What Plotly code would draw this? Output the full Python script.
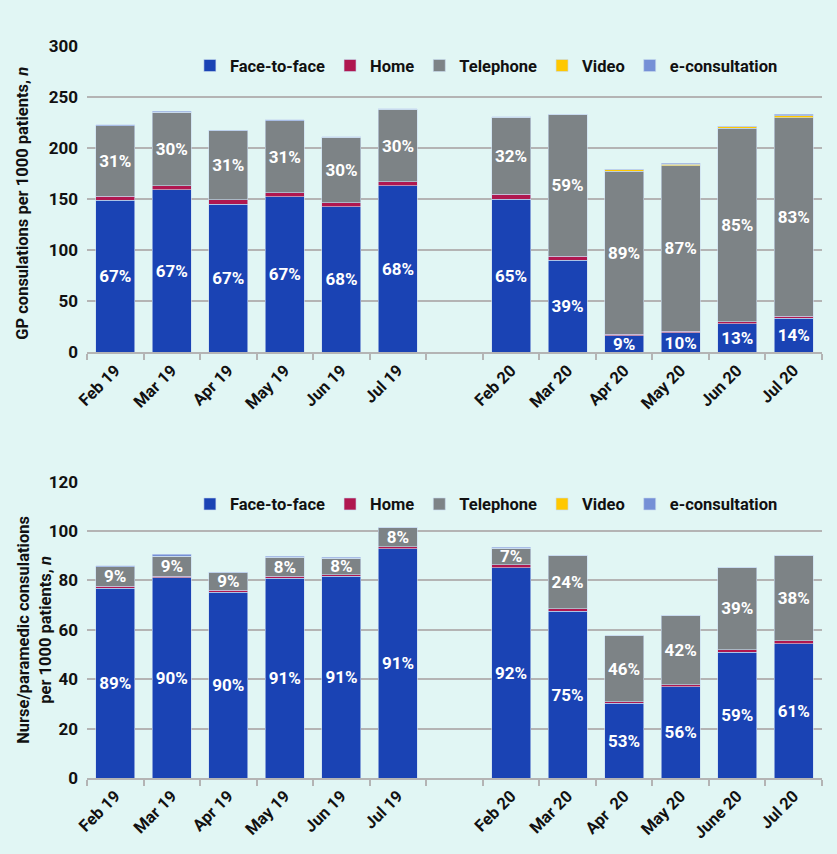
import plotly.graph_objects as go
from plotly.subplots import make_subplots

# categories (the blank " " slot is the gap between the two years)
gp_months = ["Feb 19", "Mar 19", "Apr 19", "May 19", "Jun 19", "Jul 19", " ",
             "Feb 20", "Mar 20", "Apr 20", "May 20", "Jun 20", "Jul 20"]
nurse_months = ["Feb 19", "Mar 19", "Apr 19", "May 19", "Jun 19", "Jul 19", " ",
                "Feb 20", "Mar 20", "Apr  20", "May 20", "June 20", "Jul 20"]

# GP consultations per 1000 patients
gp_f2f = [149, 159, 145, 152.5, 142.7, 163, None, 150, 90.2, 16.2, 19, 27.9, 33.4]
gp_home = [4, 4, 4.3, 3.9, 3.6, 4, None, 5, 3.8, 1.6, 1.7, 1.9, 1.9]
gp_tel = [69, 72, 67.7, 70.6, 64.4, 71, None, 75.3, 139, 159.4, 162, 189.6, 194.5]
gp_video = [0, 0, 0, 0, 0, 0, None, 0, 0, 1.5, 1.5, 1.3, 1.7]
gp_econ = [0.7, 1.3, 0.7, 1, 0.6, 0.5, None, 0.4, 0.2, 0.8, 1, 0.9, 1.5]
gp_f2f_pct = ["67%", "67%", "67%", "67%", "68%", "68%", "", "65%", "39%", "9%", "10%", "13%", "14%"]
gp_tel_pct = ["31%", "30%", "31%", "31%", "30%", "30%", "", "32%", "59%", "89%", "87%", "85%", "83%"]

# Nurse/paramedic consultations per 1000 patients
nu_f2f = [76.9, 81.0, 75.3, 80.8, 81.6, 92.9, None, 85.2, 67.6, 30.2, 37.0, 51.0, 54.4]
nu_home = [0.7, 0.7, 0.8, 0.8, 0.7, 0.8, None, 1.1, 0.9, 0.7, 0.8, 0.9, 1.2]
nu_tel = [8.0, 8.1, 7.0, 7.8, 6.7, 7.8, None, 6.8, 21.7, 26.8, 28.1, 33.5, 34.5]
nu_video = [0, 0, 0, 0, 0, 0, None, 0, 0, 0, 0, 0, 0]
nu_econ = [0.4, 0.7, 0.2, 0.3, 0.4, 0, None, 0.3, 0, 0, 0, 0, 0]
nu_f2f_pct = ["89%", "90%", "90%", "91%", "91%", "91%", "", "92%", "75%", "53%", "56%", "59%", "61%"]
nu_tel_pct = ["9%", "9%", "9%", "8%", "8%", "8%", "", "7%", "24%", "46%", "42%", "39%", "38%"]

series_names = ["Face-to-face", "Home", "Telephone", "Video", "e-consultation"]
colors = ["#1a43b4", "#b0174f", "#7d8386", "#ffc800", "#7590d6"]

FONT = "Roboto"
BG = "#e1f6f4"
GRID = "#b4b4b4"
INK = "#111111"

fig = make_subplots(rows=2, cols=1, vertical_spacing=0.1767, row_heights=[308, 298])

panels = [
    (1, gp_months, [gp_f2f, gp_home, gp_tel, gp_video, gp_econ], gp_f2f_pct, gp_tel_pct, "legend"),
    (2, nurse_months, [nu_f2f, nu_home, nu_tel, nu_video, nu_econ], nu_f2f_pct, nu_tel_pct, "legend2"),
]

for row, months, values, f2f_pct, tel_pct, leg in panels:
    for i, (name, vals, col) in enumerate(zip(series_names, values, colors)):
        text = None
        if i == 0:
            text = f2f_pct
        elif i == 2:
            text = tel_pct
        fig.add_trace(go.Bar(
            x=months, y=vals, name=name,
            marker=dict(color=col, line=dict(color="#c9dcf0", width=0.6)),
            text=text, textposition="inside" if text else None,
            insidetextanchor="middle",
            textfont=dict(family=FONT, size=17, color="white", weight="bold"),
            legend=leg,
        ), row=row, col=1)

fig.update_traces(width=0.69)

fig.update_xaxes(
    tickangle=-45, tickson="boundaries", ticks="outside", ticklen=6,
    tickcolor=GRID, tickwidth=2, showline=True, linecolor=GRID, linewidth=2,
    showgrid=False, tickfont=dict(family=FONT, size=16.5, color=INK, weight="bold"),
)
fig.update_yaxes(
    showgrid=True, gridcolor=GRID, gridwidth=2, zeroline=False, showline=False,
    ticks="", ticklabelstandoff=8,
    tickfont=dict(family=FONT, size=17, color=INK, weight="bold"),
)
fig.update_yaxes(range=[0, 300], dtick=50, row=1, col=1)
fig.update_yaxes(range=[0, 120], dtick=20, row=2, col=1)

# y-axis titles as annotations so they can sit where the original has them
title_font = dict(family=FONT, size=16.5, color=INK, weight="bold")
fig.add_annotation(text="GP consulations per 1000 patients, <i>n</i>",
                   xref="paper", yref="y domain", x=0, y=0.485, xshift=-64,
                   xanchor="center", yanchor="middle",
                   textangle=-90, showarrow=False, font=title_font)
fig.add_annotation(text="Nurse/paramedic consulations<br>per 1000 patients, <i>n</i>",
                   xref="paper", yref="y2 domain", x=0, y=0.50, xshift=-53,
                   xanchor="center", yanchor="middle",
                   textangle=-90, showarrow=False, font=title_font)

legend_style = dict(
    orientation="h", xanchor="left", yanchor="middle", bgcolor="rgba(0,0,0,0)",
    font=dict(family=FONT, size=16.5, color=INK, weight="bold"),
    traceorder="normal",
)

fig.update_layout(
    width=837, height=854,
    margin=dict(l=87, r=15, t=46, b=72),
    paper_bgcolor=BG, plot_bgcolor=BG,
    barmode="stack", bargap=0.3,
    showlegend=True,
    legend=dict(x=0.14, y=0.973, **legend_style),
    legend2=dict(x=0.14, y=0.374, **legend_style),
    uniformtext=dict(minsize=17, mode="show"),
    font=dict(family=FONT),
)

fig.write_html(
    "out.html",
    config={"displayModeBar": False},
    post_script="document.body.style.margin='0';document.body.style.background='%s';" % BG,
)
